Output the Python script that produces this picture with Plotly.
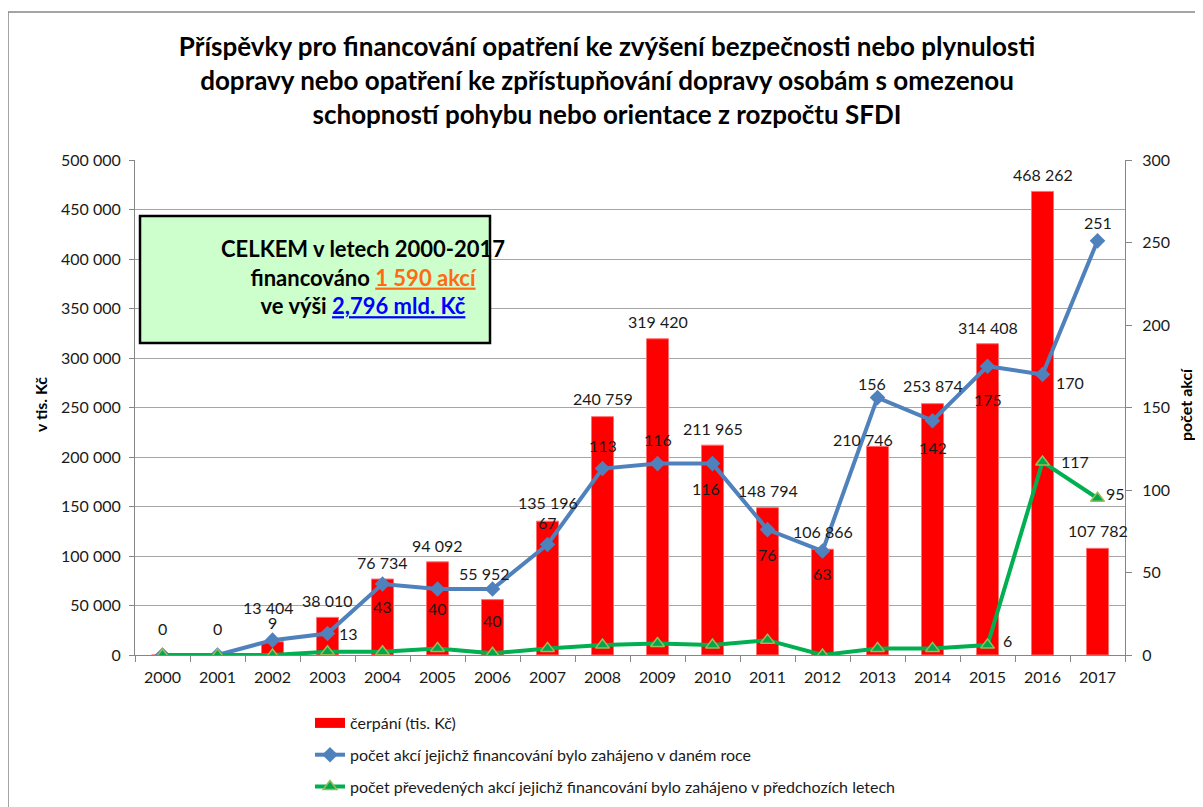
import plotly.graph_objects as go

years = [str(y) for y in range(2000, 2018)]
cerpani = [0, 0, 13404, 38010, 76734, 94092, 55952, 135196, 240759, 319420,
           211965, 148794, 106866, 210746, 253874, 314408, 468262, 107782]
akce_nove = [0, 0, 9, 13, 43, 40, 40, 67, 113, 116, 116, 76, 63, 156, 142, 175, 170, 251]
akce_prevedene = [0, 0, 0, 2, 2, 4, 1, 4, 6, 7, 6, 9, 0, 4, 4, 6, 117, 95]
green_label_years = ["2015", "2016", "2017"]

title_lines = [
    "Příspěvky pro financování opatření ke zvýšení bezpečnosti nebo plynulosti",
    "dopravy nebo opatření ke zpřístupňování dopravy osobám s omezenou",
    "schopností pohybu nebo orientace z rozpočtu SFDI",
]
names = [
    "čerpání (tis. Kč)",
    "počet akcí jejichž financování bylo zahájeno v daném roce",
    "počet převedených akcí jejichž financování bylo zahájeno v předchozích letech",
]

# label offsets (style only)
bar_dx = [0, 0, -4, 0, 0, 0, -8, 0, 0, 0, 0, 0, 0, -15, 0, 0, 0, 0]
bar_dy = [27, 27, 34, 17, 17, 16, 26, 19, 18, 17, 17, 17, 18, 7, 18, 16, 17, 18]
blue_dx = [0, 0, 0, 21, 0, 0, 0, 0, 0, 0, -7, 0, 0, -6, 0, 0, 27, 0]
blue_dy = [0, 0, 18, 0, -22, -19, -31, 22, 23, 24, -25, -25, -22, 14, -27, -33, -8, 18]
green_dx = {"2015": 20, "2016": 32, "2017": 18}
green_dy = {"2015": 5, "2016": 0, "2017": 5}

FONT = "Lato"
TXT = "#1a1a1a"
LBL = 16


def fmt(v):
    return f"{v:,}".replace(",", " ")


fig = go.Figure()
fig.add_trace(go.Bar(
    x=years, y=cerpani, name=names[0], width=0.4,
    marker=dict(color="#FF0000", line=dict(color="#FF7070", width=1)),
    showlegend=False, yaxis="y",
))
# legend entry for the bars (wide red swatch like the original)
fig.add_trace(go.Scatter(
    x=[None], y=[None], name=names[0], mode="lines",
    line=dict(color="#FF0000", width=10), legendgroup="a", yaxis="y",
))
fig.add_trace(go.Scatter(
    x=years, y=akce_nove, name=names[1], mode="lines+markers",
    line=dict(color="#4F81BD", width=4),
    marker=dict(symbol="diamond", size=12, color="#4F81BD"),
    legendgroup="b", yaxis="y2",
))
fig.add_trace(go.Scatter(
    x=years, y=akce_prevedene, name=names[2], mode="lines+markers",
    line=dict(color="#00B050", width=4),
    marker=dict(symbol="triangle-up", size=12, color="#00A84F",
                line=dict(color="#9BBB59", width=1.5)),
    legendgroup="c", yaxis="y2",
))

ann = []
for i, v in enumerate(cerpani):
    ann.append(dict(x=i, y=v, xref="x", yref="y", text=fmt(v), showarrow=False,
                    xshift=bar_dx[i], yshift=bar_dy[i],
                    font=dict(family=FONT, size=LBL, color=TXT)))
for i, v in enumerate(akce_nove):
    if v == 0:
        continue
    ann.append(dict(x=i, y=v, xref="x", yref="y2", text=str(v), showarrow=False,
                    xshift=blue_dx[i], yshift=blue_dy[i],
                    font=dict(family=FONT, size=LBL, color=TXT)))
for i, (yr, v) in enumerate(zip(years, akce_prevedene)):
    if yr in green_label_years:
        ann.append(dict(x=i, y=v, xref="x", yref="y2", text=str(v), showarrow=False,
                        xshift=green_dx[yr], yshift=green_dy[yr],
                        font=dict(family=FONT, size=LBL, color=TXT)))

# info box text
ann.append(dict(
    x=(363 - 135) / 990, y=(655 - 277) / 495, xref="paper", yref="paper",
    xanchor="center", yanchor="middle",
    showarrow=False, align="center",
    text=("<b>CELKEM v letech 2000-2017</b><br>"
          "<b>financováno <span style='color:#FF6A13'><u>1 590 akcí</u></span></b><br>"
          "<b>ve výši <span style='color:#0000FF'><u>2,796 mld. Kč</u></span></b>"),
    font=dict(family=FONT, size=22, color="#000000"),
))
# axis titles
ann.append(dict(x=(40 - 135) / 990, y=(655 - 405) / 495, xref="paper", yref="paper",
                xanchor="center", yanchor="middle", showarrow=False,
                text="<b>v tis. Kč</b>", textangle=-90,
                font=dict(family=FONT, size=16, color="#000000")))
ann.append(dict(x=(1185 - 135) / 990, y=(655 - 405) / 495, xref="paper", yref="paper",
                xanchor="center", yanchor="middle", showarrow=False,
                text="<b>počet akcí</b>", textangle=-90,
                font=dict(family=FONT, size=16, color="#000000")))

shapes = [
    dict(type="rect", xref="paper", yref="paper",
         x0=(140 - 135) / 990, x1=(490 - 135) / 990,
         y0=(655 - 343) / 495, y1=(655 - 216) / 495,
         fillcolor="#CCFFCC", line=dict(color="#000000", width=2.5), layer="above"),
    dict(type="rect", xref="paper", yref="paper",
         x0=(8 - 135) / 990, x1=(1225 - 135) / 990,
         y0=(655 - 830) / 495, y1=(655 - 12) / 495,
         line=dict(color="#868686", width=1.5), fillcolor="rgba(0,0,0,0)"),
]

fig.update_layout(
    width=1203, height=807,
    margin=dict(l=127, r=86, t=152, b=160, autoexpand=False),
    paper_bgcolor="white", plot_bgcolor="white",
    separators=", ",
    font=dict(family=FONT, size=16, color=TXT),
    title=dict(text="<b>" + "<br>".join(title_lines) + "</b>",
               x=599 / 1203, xanchor="center", xref="container",
               y=1 - 48 / 807, yanchor="middle", yref="container",
               font=dict(family=FONT, size=26, color="#000000")),
    bargap=0.6,
    xaxis=dict(type="category", range=[-0.5, len(years) - 0.5], automargin=False,
               showline=True, linecolor="#868686", linewidth=1,
               ticks="outside", tickson="boundaries", ticklen=6, tickcolor="#868686",
               ticklabelstandoff=8,
               showgrid=False, tickangle=0, tickfont=dict(family=FONT, size=16, color=TXT)),
    yaxis=dict(range=[0, 500000], dtick=50000, tickformat=",d", automargin=False,
               showline=True, linecolor="#868686", linewidth=1,
               ticks="outside", ticklen=5, tickcolor="#868686", ticklabelstandoff=5,
               showgrid=True, gridcolor="#A6A6A6", gridwidth=1, zeroline=False,
               tickfont=dict(family=FONT, size=16, color=TXT)),
    yaxis2=dict(range=[0, 300], dtick=50, overlaying="y", side="right", automargin=False,
                showline=True, linecolor="#868686", linewidth=1,
                ticks="outside", ticklen=6, tickcolor="#868686", ticklabelstandoff=7,
                showgrid=False, zeroline=False,
                tickfont=dict(family=FONT, size=16, color=TXT)),
    legend=dict(orientation="v", x=(310 - 135) / 990, xanchor="left",
                y=(655 - 706) / 495, yanchor="top", tracegroupgap=8,
                font=dict(family=FONT, size=16, color=TXT), bgcolor="rgba(0,0,0,0)"),
    annotations=ann,
    shapes=shapes,
    showlegend=True,
)

fig.write_html("out.html")
